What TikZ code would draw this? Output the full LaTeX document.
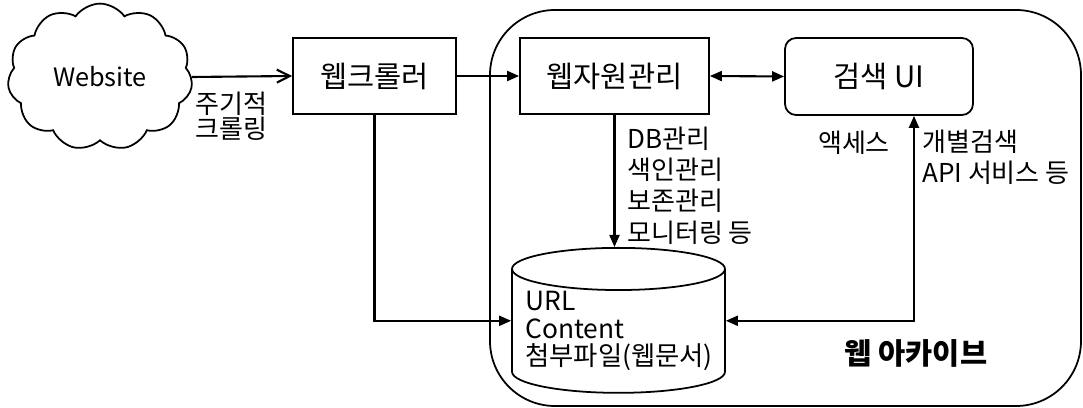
\documentclass[tikz,border=0pt]{standalone}
\usepackage{fontspec}
\setmainfont{Noto Sans CJK KR}
\usepackage{tikz}
\usetikzlibrary{arrows.meta,shapes,positioning}

\begin{document}
\begin{tikzpicture}[x=0.02cm,y=-0.02cm,
  box/.style={draw,line width=1pt,minimum height=1.52cm,inner sep=0pt,font=\fontsize{16.8}{18}\selectfont},
  lbl/.style={inner sep=0pt,align=left,font=\fontsize{14.8}{17.8}\selectfont},
  arr/.style={line width=1.2pt,-{Triangle[length=2.4mm,width=2mm]}},
  arrs/.style={line width=1.2pt,{Triangle[length=2.4mm,width=2mm]}-{Triangle[length=2.4mm,width=2mm]}}]
\useasboundingbox(0,0)rectangle(1083,408);
% web archive frame
\draw[line width=1pt,rounded corners=1.3cm](490,10)rectangle(1081,406);
\node[draw,line width=1pt,cloud,cloud puffs=11,cloud puff arc=110,minimum width=3.7cm,minimum height=1.46cm,inner sep=0pt,font=\fontsize{14.4}{16}\selectfont](web)at(100,77){Website};
\node[box,minimum width=3.26cm](crawler)at(374.5,76){웹크롤러};
\node[box,minimum width=3.78cm](manage)at(614.5,76){웹자원관리};
\node[box,minimum width=3.76cm,minimum height=1.54cm,rounded corners=0.22cm](search)at(879,76.5){검색 UI};
\node[draw,line width=1pt,cylinder,shape border rotate=90,aspect=3.6,minimum width=4.26cm,minimum height=2.9cm,anchor=north](db)at(618.5,247){};
\node[lbl,anchor=west,font=\fontsize{15}{15.5}\selectfont](dbtxt)at(525,331){URL\\Content\\첨부파일(웹문서)};
% connectors
\draw[line width=1.2pt,-{Straight Barb[length=2.6mm,width=2.6mm]}](web.east)--(crawler.west);
\draw[arr](crawler.east)--(manage.west);
\draw[arrs](manage.east)--(search.west);
\draw[arr](manage.south)--(manage.south|-db.north);
\draw[arr](crawler.south)|-([yshift=0.28cm]db.west);
\draw[arrs]([yshift=0.28cm]db.east)-|([xshift=0.7cm]search.south);
% labels
\node[lbl,anchor=west,font=\fontsize{14.8}{14.4}\selectfont](cycle)at(195,116.5){주기적\\크롤링};
\node[lbl,anchor=west](tasks)at(627,185.5){DB관리\\색인관리\\보존관리\\모니터링 등};
\node[lbl](access)at(854,143){액세스};
\node[lbl,anchor=west](service)at(922,157){개별검색\\API 서비스 등};
\node[lbl,font=\bfseries\fontsize{16.8}{18}\selectfont](archive)at(916,353){웹 아카이브};
\end{tikzpicture}
\end{document}
